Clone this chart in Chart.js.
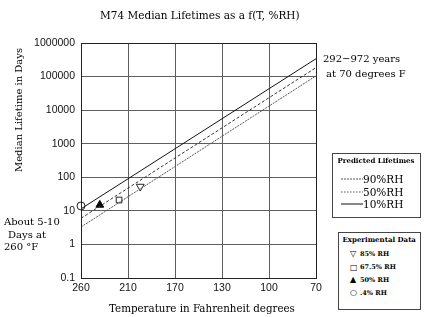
<!DOCTYPE html>
<html>
<head>
<meta charset="utf-8">
<script src="https://cdn.jsdelivr.net/npm/chart.js@4.4.0/dist/chart.umd.min.js"></script>
<style>
  html, body { margin:0; padding:0; background:#fff; }
  #wrap { position:relative; width:424px; height:317px; overflow:hidden; background:#fff; }
  #c { position:absolute; left:0; top:0; }
  .t { position:absolute; white-space:nowrap; color:#000; font-family:"DejaVu Serif", serif; }
  .box { position:absolute; border:1px solid #444; background:#fff; }
</style>
</head>
<body>
<div id="wrap">
  <canvas id="c" width="424" height="317"></canvas>
</div>
<script>
// ---------- data ----------
const xTickLabels = ['260', '210', '170', '130', '100', '70'];
const yTickValues = [0.1, 1, 10, 100, 1000, 10000, 100000, 1000000];
const lineX = [0, 5];
const rh90 = [3.3, 105000];
const rh50 = [6, 185000];
const rh10 = [11.5, 340000];
const expX = [1.26, 0.81, 0.40, 0];
const expY = [53, 21, 15, 14];
const expLabels = ['85% RH', '67.5%  RH', '50% RH', '.4% RH'];
const lineLabels = ['90%RH', '50%RH', '10%RH'];

const toXY = (xs, ys) => xs.map((x, i) => ({ x: x, y: ys[i] }));

const framePlugin = {
  id: 'frame',
  afterDatasetsDraw(chart) {
    const a = chart.chartArea, ctx = chart.ctx;
    ctx.save();
    ctx.strokeStyle = '#222';
    ctx.lineWidth = 1;
    ctx.strokeRect(Math.round(a.left) + 0.5, Math.round(a.top) + 0.5,
                   Math.round(a.right - a.left), Math.round(a.bottom - a.top));
    ctx.restore();
  }
};

new Chart(document.getElementById('c'), {
  type: 'scatter',
  data: {
    datasets: [
      { label: lineLabels[0], data: toXY(lineX, rh90), showLine: true, borderColor: '#555', borderWidth: 1, borderDash: [2, 1], pointRadius: 0 },
      { label: lineLabels[1], data: toXY(lineX, rh50), showLine: true, borderColor: '#333', borderWidth: 1, borderDash: [3, 2], pointRadius: 0 },
      { label: lineLabels[2], data: toXY(lineX, rh10), showLine: true, borderColor: '#111', borderWidth: 1, pointRadius: 0 },
      { label: expLabels[0], data: [{ x: expX[0], y: expY[0] }], pointStyle: 'triangle', rotation: 180, pointRadius: 4.5, borderColor: '#222', backgroundColor: '#fff', borderWidth: 1, clip: false },
      { label: expLabels[1], data: [{ x: expX[1], y: expY[1] }], pointStyle: 'rect', pointRadius: 4, borderColor: '#222', backgroundColor: '#fff', borderWidth: 1, clip: false },
      { label: expLabels[2], data: [{ x: expX[2], y: expY[2] }], pointStyle: 'triangle', pointRadius: 4.5, borderColor: '#000', backgroundColor: '#000', borderWidth: 1, clip: false },
      { label: expLabels[3], data: [{ x: expX[3], y: expY[3] }], pointStyle: 'circle', pointRadius: 4, borderColor: '#222', backgroundColor: '#fff', borderWidth: 1, clip: false }
    ]
  },
  options: {
    responsive: false,
    animation: false,
    devicePixelRatio: 1,
    layout: { padding: { top: 43, right: 108, left: 0, bottom: 0 } },
    plugins: { legend: { display: false }, tooltip: { enabled: false }, title: { display: false } },
    scales: {
      x: {
        type: 'linear', min: 0, max: 5,
        afterFit: s => { s.height = 39; },
        grid: { color: '#5e5e5e', lineWidth: 1, drawTicks: false },
        border: { display: false },
        ticks: { stepSize: 1, padding: 4, color: '#111', font: { family: '"Liberation Sans", Arial, sans-serif', size: 10.5 },
                 callback: v => xTickLabels[v] }
      },
      y: {
        type: 'logarithmic', min: 0.1, max: 1000000,
        afterFit: s => { s.width = 81; },
        afterBuildTicks: s => { s.ticks = yTickValues.map(v => ({ value: v })); },
        grid: { color: '#5e5e5e', lineWidth: 1, drawTicks: false },
        border: { display: false },
        ticks: { padding: 6, color: '#111', font: { family: '"Liberation Sans", Arial, sans-serif', size: 10.5 },
                 callback: v => String(v) }
      }
    }
  },
  plugins: [framePlugin]
});

// ---------- text & legends ----------
const wrap = document.getElementById('wrap');
function txt(s, x, y, o) {
  o = o || {};
  const d = document.createElement('div');
  d.className = 't';
  d.textContent = s;
  const fs = o.size || 10;
  d.style.fontSize = fs + 'px';
  d.style.lineHeight = (fs + 4) + 'px';
  d.style.fontWeight = o.bold ? 'bold' : 'normal';
  if (o.family) d.style.fontFamily = o.family;
  wrap.appendChild(d);
  const w = d.offsetWidth, h = d.offsetHeight;
  let left = x;
  if (o.align === 'center') left = x - w / 2;
  d.style.left = left + 'px';
  d.style.top = (y - h / 2) + 'px';
  if (o.rotate) {
    d.style.left = (x - w / 2) + 'px';
    d.style.transform = 'rotate(-90deg)';
  }
  return d;
}
function box(l, t, r, b) {
  const d = document.createElement('div');
  d.className = 'box';
  d.style.left = l + 'px'; d.style.top = t + 'px';
  d.style.width = (r - l) + 'px'; d.style.height = (b - t) + 'px';
  wrap.appendChild(d);
}

txt('M74 Median Lifetimes as a f(T, %RH)', 200, 15, { size: 10.5, align: 'center' });
txt('Median Lifetime in Days', 19, 110, { size: 10, rotate: true });
txt('Temperature in Fahrenheit degrees', 202, 308, { size: 10.3, align: 'center' });
txt('About 5-10', 4, 222, { size: 10 });
txt('Days at', 8, 234.5, { size: 10 });
txt('260 °F', 4, 247, { size: 10 });
txt('292\u2212972 years', 323, 59, { size: 10 });
txt('at 70 degrees F', 326, 73.5, { size: 10 });

// Predicted lifetimes legend
box(332, 153, 419, 216);
txt('Predicted Lifetimes', 376, 160, { size: 7, bold: true, align: 'center' });
const dashes = ['2,1', '1.5,1.5', ''];
const ly = [179, 192, 204];
lineLabels.forEach((lab, i) => {
  const svg = document.createElementNS('http://www.w3.org/2000/svg', 'svg');
  svg.setAttribute('width', '22'); svg.setAttribute('height', '4');
  svg.style.position = 'absolute'; svg.style.left = '341px'; svg.style.top = (ly[i] - 2) + 'px';
  const ln = document.createElementNS('http://www.w3.org/2000/svg', 'line');
  ln.setAttribute('x1', '0'); ln.setAttribute('x2', '22'); ln.setAttribute('y1', '2'); ln.setAttribute('y2', '2');
  ln.setAttribute('stroke', i === 2 ? '#111' : '#555'); ln.setAttribute('stroke-width', '1');
  if (dashes[i]) ln.setAttribute('stroke-dasharray', dashes[i]);
  svg.appendChild(ln);
  wrap.appendChild(svg);
  txt(lab, 363, ly[i], { size: 10.5 });
});

// Experimental data legend
box(338, 232, 419, 308);
txt('Experimental Data', 379, 239.5, { size: 7, bold: true, align: 'center' });
const marks = ['\u25BD', '\u25A1', '\u25B2', '\u25CB'];
const ey = [254, 267.5, 280, 293];
expLabels.forEach((lab, i) => {
  txt(marks[i], 350, ey[i], { size: 8, family: '"DejaVu Sans", sans-serif' });
  txt(lab, 360, ey[i], { size: 6.5, bold: true });
});
</script>
</body>
</html>
